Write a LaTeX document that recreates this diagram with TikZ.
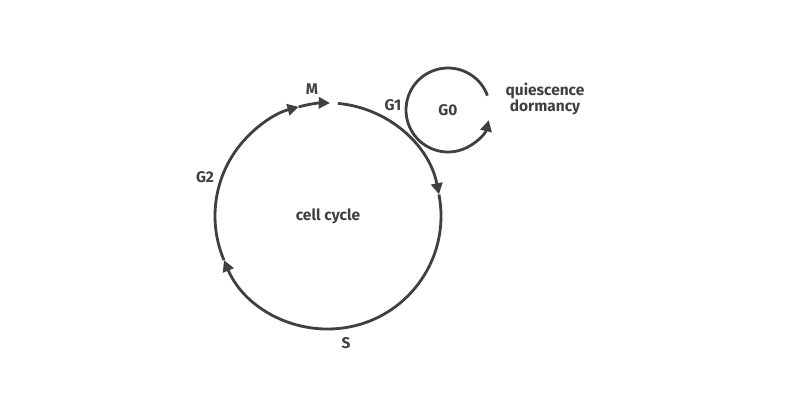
\documentclass[tikz,border=0pt]{standalone}
\usepackage{fontspec}
\setmainfont{Fira Sans}
\usetikzlibrary{arrows.meta,positioning,calc}
\definecolor{ink}{HTML}{404040}
\tikzset{
  lbl/.style={font=\fontsize{11}{13}\selectfont\bfseries, text=ink},
  cyc/.style={draw=ink, line width=2pt, -{Triangle[length=8pt,width=8pt]}}
}
\begin{document}
\begin{tikzpicture}[x=0.025cm,y=0.025cm]
  \useasboundingbox (0,0) rectangle (800,400);
  \def\R{113}
  \coordinate (cc) at (328,184);
  % cell cycle arcs
  \draw[cyc] ($(cc)+(85:\R)$) arc[start angle=85,end angle=11,radius=\R];
  \draw[cyc] ($(cc)+(11:\R)$) arc[start angle=11,end angle=-157,radius=\R];
  \draw[cyc] ($(cc)+(-157:\R)$) arc[start angle=-157,end angle=-255,radius=\R];
  \draw[cyc] ($(cc)+(-255:\R)$) arc[start angle=-255,end angle=-271,radius=\R];
  % quiescent loop
  \coordinate (qc) at (448,290);
  \draw[cyc] ($(qc)+(20:42)$) arc[start angle=20,end angle=346,radius=42];
  \node[lbl] (cycle) at (cc) {cell cycle};
  \node[lbl] (m) at (312,311) {M};
  \node[lbl] (gone) at (393,295) {G1};
  \node[lbl] (gzero) at (qc) {G0};
  \node[lbl] (gtwo) at (205,223) {G2};
  \node[lbl] (s) at (346,57) {S};
  \node[lbl, align=center] (rest) at (545,301) {quiescence\\[-1pt]dormancy};
\end{tikzpicture}
\end{document}
